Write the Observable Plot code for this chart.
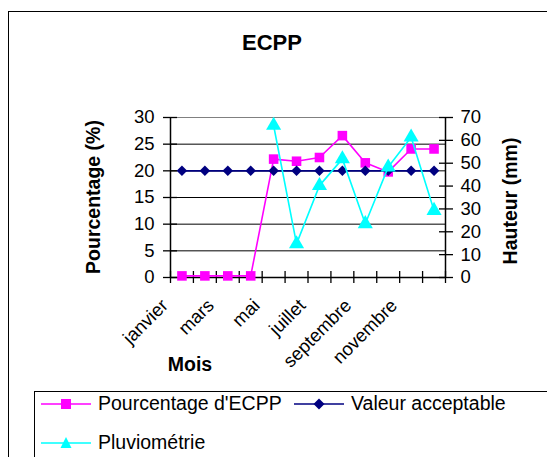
<!DOCTYPE html>
<html>
<head>
<meta charset="utf-8">
<script src="https://cdn.jsdelivr.net/npm/d3@7"></script>
<script src="https://cdn.jsdelivr.net/npm/@observablehq/plot@0.6"></script>
<style>
  html, body { margin: 0; padding: 0; background: #fff; }
  body { width: 547px; height: 457px; overflow: hidden; position: relative; font-family: "Liberation Sans", Arial, sans-serif; }
  .abs { position: absolute; }
  #frame { left: 8px; top: 11px; width: 700px; height: 600px; border: 1.5px solid #000; box-sizing: border-box; }
  #legend { left: 34px; top: 391px; width: 700px; height: 200px; border: 1px solid #000; box-sizing: border-box; background: #fff; }
  #chart { left: 0; top: 0; }
  .title { font-weight: bold; font-size: 22px; }
  .axt { font-weight: bold; font-size: 19.5px; white-space: nowrap; }
  .leg { font-size: 19.5px; white-space: nowrap; }
</style>
</head>
<body>
<div id="frame" class="abs"></div>
<div id="chart" class="abs"></div>
<div class="abs title" style="left:0;width:544px;text-align:center;top:30px;">ECPP</div>
<div class="abs axt" style="left:93px;top:197px;transform:translate(-50%,-50%) rotate(-90deg);">Pourcentage (%)</div>
<div class="abs axt" style="left:510px;top:201px;transform:translate(-50%,-50%) rotate(-90deg);">Hauteur (mm)</div>
<div class="abs axt" style="left:190px;top:364px;transform:translate(-50%,-50%);">Mois</div>
<div id="legend" class="abs"></div>
<script>
const months = ["janvier","février","mars","avril","mai","juin","juillet","août","septembre","octobre","novembre","décembre"];
const monthLabels = ["janvier","mars","mai","juillet","septembre","novembre"];
const pourcentage = [0.3, 0.3, 0.3, 0.3, 22.2, 21.8, 22.5, 26.6, 21.5, 19.8, 24.1, 24.1];
const acceptable = [20, 20, 20, 20, 20, 20, 20, 20, 20, 20, 20, 20];
const pluviometrie = [null, null, null, null, 66.5, 14.7, 40.2, 51.9, 23.5, 48.3, 61.4, 29.3];
const leftTicks = [0, 5, 10, 15, 20, 25, 30];
const rightTicks = [0, 10, 20, 30, 40, 50, 60, 70];
const leftMax = 30, rightMax = 70;
const k = leftMax / rightMax;

const colors = {pct: "#FF00FF", acc: "#000080", plu: "#00FFFF"};

const rows = months.map((m, i) => ({i, m, pct: pourcentage[i], acc: acceptable[i], plu: pluviometrie[i] == null ? null : pluviometrie[i] * k}));
const pluRows = rows.filter(d => d.plu != null);
const labelRows = rows.filter(d => monthLabels.includes(d.m));
const boundaries = d3.range(months.length + 1);

const font = '"Liberation Sans", Arial, sans-serif';

const chart = Plot.plot({
  width: 547, height: 457,
  marginLeft: 170, marginRight: 102, marginTop: 117, marginBottom: 180,
  style: {fontFamily: font, fontSize: "18.5px", background: "transparent", overflow: "visible"},
  x: {domain: [0, months.length]},
  y: {domain: [0, leftMax]},
  marks: [
    Plot.ruleY(leftTicks.filter(v => v > 0 && v < leftMax), {stroke: "#000", strokeWidth: 1}),
    Plot.ruleY([leftMax], {stroke: "#808080", strokeWidth: 1.2}),
    Plot.ruleX([0, months.length], {stroke: "#000", strokeWidth: 1.5}),
    Plot.ruleY([0], {stroke: "#000", strokeWidth: 1.5}),
    Plot.axisY({anchor: "left", ticks: leftTicks, tickSize: 7, tickPadding: 9, label: null, fontSize: 18.5, stroke: "#000", strokeWidth: 1.3, color: "#000"}),
    Plot.axisY({anchor: "left", ticks: leftTicks, tickSize: -7, tickFormat: () => "", label: null, stroke: "#000", strokeWidth: 1.3}),
    Plot.axisY({anchor: "right", ticks: rightTicks.map(v => v * k), tickFormat: d => String(Math.round(d / k)), tickSize: 7, tickPadding: 8, label: null, fontSize: 18.5, stroke: "#000", strokeWidth: 1.3}),
    Plot.axisY({anchor: "right", ticks: rightTicks.map(v => v * k), tickSize: -7, tickFormat: () => "", label: null, stroke: "#000", strokeWidth: 1.3}),
    Plot.axisX({anchor: "bottom", ticks: boundaries, tickSize: 6, tickFormat: () => "", label: null, stroke: "#000", strokeWidth: 1.3}),
    Plot.axisX({anchor: "bottom", ticks: boundaries, tickSize: -6, tickFormat: () => "", label: null, stroke: "#000", strokeWidth: 1.3}),
    Plot.text(labelRows, {x: d => d.i + 0.5, y: 0, text: "m", rotate: -45, textAnchor: "end", dx: -17, dy: 25, fontSize: 18.5, fill: "#000"}),
    // Pourcentage
    Plot.line(rows, {x: d => d.i + 0.5, y: "pct", stroke: colors.pct, strokeWidth: 1.6}),
    Plot.dot(rows, {x: d => d.i + 0.5, y: "pct", symbol: "square", r: 5.4, fill: colors.pct, stroke: "none"}),
    // Valeur acceptable
    Plot.line(rows, {x: d => d.i + 0.5, y: "acc", stroke: colors.acc, strokeWidth: 1.8}),
    Plot.dot(rows, {x: d => d.i + 0.5, y: "acc", symbol: "square", r: 4.2, rotate: 45, fill: colors.acc, stroke: "none"}),
    // Pluviométrie
    Plot.line(pluRows, {x: d => d.i + 0.5, y: "plu", stroke: colors.plu, strokeWidth: 1.6}),
    Plot.dot(pluRows, {x: d => d.i + 0.5, y: "plu", symbol: "triangle", r: 5.6, fill: colors.plu, stroke: "none"})
  ]
});
document.getElementById("chart").appendChild(chart);

// Legend
const legendItems = [
  {label: "Pourcentage d'ECPP", color: colors.pct, sym: "square", x: 6, y: 12},
  {label: "Valeur acceptable", color: colors.acc, sym: "diamond", x: 259, y: 12},
  {label: "Pluviométrie", color: colors.plu, sym: "triangle", x: 6, y: 51}
];
const legend = document.getElementById("legend");
for (const it of legendItems) {
  const sw = d3.create("svg").attr("width", 52).attr("height", 14)
    .style("position", "absolute").style("left", it.x + "px").style("top", (it.y - 7) + "px");
  sw.append("line").attr("x1", 0).attr("x2", 50).attr("y1", 7).attr("y2", 7).attr("stroke", it.color).attr("stroke-width", 1.6);
  if (it.sym === "square") sw.append("rect").attr("x", 20).attr("y", 2).attr("width", 10).attr("height", 10).attr("fill", it.color);
  if (it.sym === "diamond") sw.append("path").attr("d", "M25,1.5L30.5,7L25,12.5L19.5,7Z").attr("fill", it.color);
  if (it.sym === "triangle") sw.append("path").attr("d", "M25,1L30.5,12L19.5,12Z").attr("fill", it.color);
  legend.appendChild(sw.node());
  const t = document.createElement("div");
  t.className = "abs leg";
  t.textContent = it.label;
  t.style.left = (it.x + 57) + "px";
  t.style.top = (it.y - 12) + "px";
  legend.appendChild(t);
}
</script>
</body>
</html>
